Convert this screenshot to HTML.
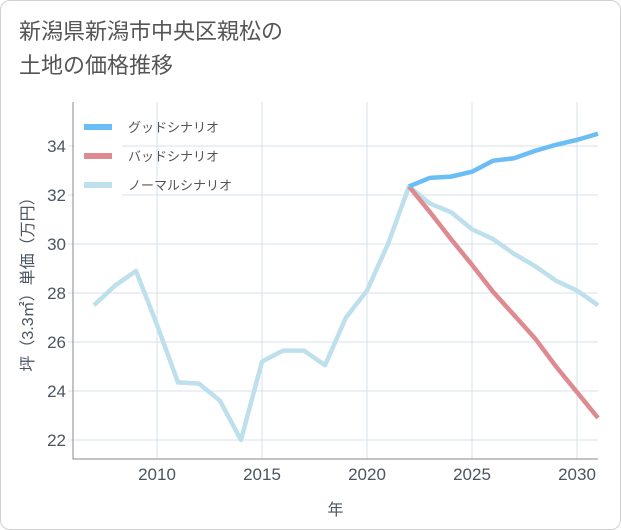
<!DOCTYPE html>
<html><head><meta charset="utf-8"><style>
body{margin:0;background:#fff;}
.card{position:absolute;left:0;top:0;width:619px;height:528px;border:1px solid #d0d0d0;border-radius:10px;background:#fff;overflow:hidden;}
.title{position:absolute;left:18px;top:14px;font:22px "Liberation Sans","Noto Sans CJK JP",sans-serif;color:#555;line-height:34px;}
svg text{font-family:"Liberation Sans","Noto Sans CJK JP",sans-serif;}
</style></head><body>
<div class="card">
<div class="title">新潟県新潟市中央区親松の<br>土地の価格推移</div>
<svg id="chart" width="621" height="530" style="position:absolute;left:0;top:0"></svg>
</div>
<script>
const years=[2007,2008,2009,2010,2011,2012,2013,2014,2015,2016,2017,2018,2019,2020,2021,2022,2023,2024,2025,2026,2027,2028,2029,2030,2031];
const normalVals=[27.5,28.3,28.9,26.7,24.35,24.3,23.6,22.0,25.2,25.65,25.65,25.05,27.0,28.1,30.0,32.35,31.65,31.3,30.6,30.2,29.6,29.1,28.5,28.1,27.5];
const futureYears=[2022,2023,2024,2025,2026,2027,2028,2029,2030,2031];
const goodVals=[32.35,32.7,32.75,32.95,33.4,33.5,33.8,34.05,34.25,34.5];
const badVals=[32.35,31.3,30.2,29.15,28.05,27.1,26.15,25.0,23.95,22.9];
const xTicks=[2010,2015,2020,2025,2030];
const yTicks=[22,24,26,28,30,32,34];
const legendLabels=["グッドシナリオ","バッドシナリオ","ノーマルシナリオ"];
const legendColors=["#6bbef5","#de8a91","#bde0ec"];

const NS="http://www.w3.org/2000/svg";
const svg=document.getElementById('chart');
const L=72,R=597,T=101,B=458;
const xS=y=>156+(y-2010)*21;
const yS=v=>145+(34-v)*24.5;
function mk(tag,attrs,parent){const e=document.createElementNS(NS,tag);for(const k in attrs)e.setAttribute(k,attrs[k]);(parent||svg).appendChild(e);return e;}
xTicks.forEach(t=>{
  const g=mk('line',{x1:xS(t),x2:xS(t),y1:T,y2:B,stroke:'#d5e1ea','stroke-width':1});
  
  
  const tx=mk('text',{x:xS(t),y:B+21,'text-anchor':'middle','font-size':17,fill:'#4a5560'});
  tx.textContent=t;
  
  
});
yTicks.forEach(t=>{
  const g=mk('line',{x1:L-5,x2:R,y1:yS(t),y2:yS(t),stroke:'#d5e1ea','stroke-width':1});
  
  
  const tx=mk('text',{x:L-7,y:yS(t)+6,'text-anchor':'end','font-size':17,fill:'#4a5560'});
  tx.textContent=t;
  
  
});
const ax=mk('path',{d:`M${L},${T} V${B} H${R}`,fill:'none',stroke:'#888','stroke-width':1});


function line(xs,vs,color,name){
  const d=xs.map((x,i)=>(i?'L':'M')+xS(x)+','+yS(vs[i])).join(' ');
  const p=mk('path',{d,fill:'none',stroke:color,'stroke-width':4.5,'stroke-linejoin':'round'});
  
  
}
line(years,normalVals,legendColors[2],'normal-scenario-line');
line(futureYears,badVals,legendColors[1],'bad-scenario-line');
line(futureYears,goodVals,legendColors[0],'good-scenario-line');
const lb=mk('rect',{x:L+1,y:110,width:48,height:85,fill:'#fff'});


legendLabels.forEach((s,i)=>{
  const y=126+i*29;
  const sw=mk('line',{x1:83,x2:111,y1:y,y2:y,stroke:legendColors[i],'stroke-width':6});
  
  
  const tx=mk('text',{x:127,y:y+5,'font-size':13,fill:'#555'});
  tx.textContent=s;
  
  
});
const xt=mk('text',{x:(L+R)/2,y:514,'text-anchor':'middle','font-size':16,fill:'#4a5560'});
xt.textContent='年';


const yt=mk('text',{x:0,y:0,'text-anchor':'middle','font-size':16,fill:'#4a5560',transform:`translate(32,${(T+B)/2}) rotate(-90)`});
yt.textContent='坪（3.3㎡）単価（万円）';


</script>
</body></html>
